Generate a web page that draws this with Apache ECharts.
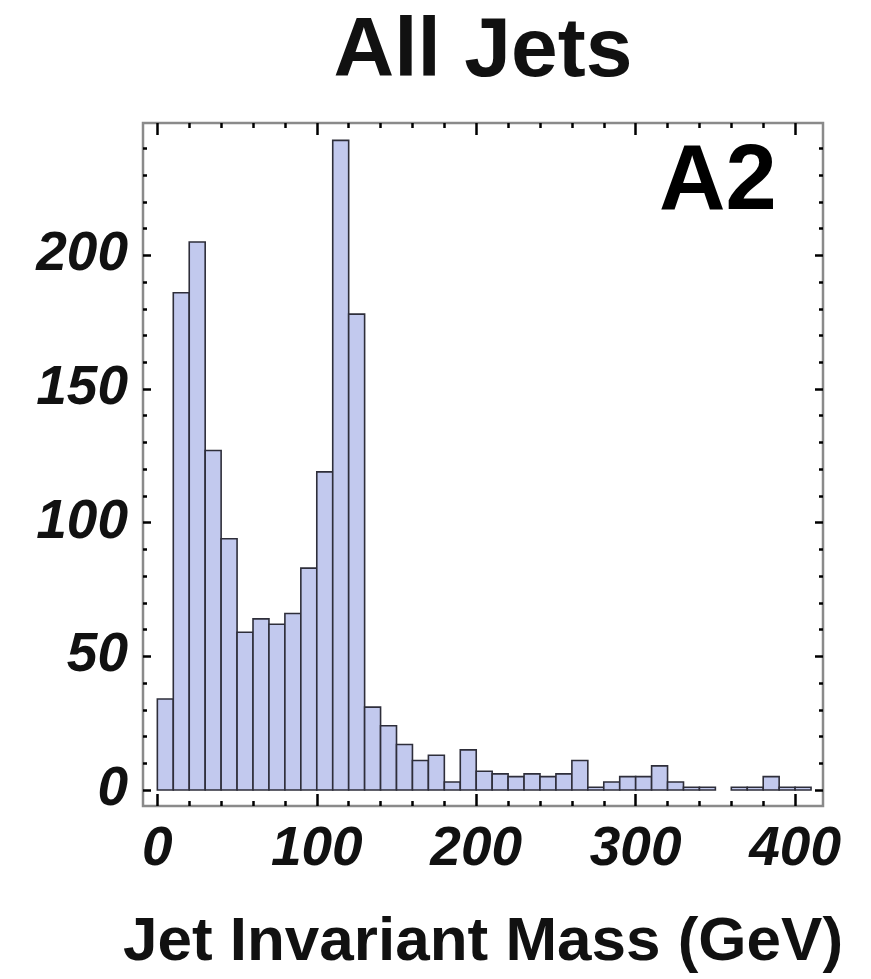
<!DOCTYPE html>
<html>
<head>
<meta charset="utf-8">
<script src="https://cdn.jsdelivr.net/npm/echarts@6/dist/echarts.min.js"></script>
<style>
  html, body { margin: 0; padding: 0; background: #fff; }
  #chart { width: 871px; height: 979px; }
</style>
</head>
<body>
<div id="chart"></div>
<script>
// Histogram of jet invariant mass, 10 GeV bins
const binLow = [0, 10, 20, 30, 40, 50, 60, 70, 80, 90,
                100, 110, 120, 130, 140, 150, 160, 170, 180, 190,
                200, 210, 220, 230, 240, 250, 260, 270, 280, 290,
                300, 310, 320, 330, 340, 350, 360, 370, 380, 390, 400];
const binHigh = [10, 20, 30, 40, 50, 60, 70, 80, 90, 100,
                 110, 120, 130, 140, 150, 160, 170, 180, 190, 200,
                 210, 220, 230, 240, 250, 260, 270, 280, 290, 300,
                 310, 320, 330, 340, 350, 360, 370, 380, 390, 400, 410];
const counts = [34, 186, 205, 127, 94, 59, 64, 62, 66, 83,
                119, 243, 178, 31, 24, 17, 11, 13, 3, 15,
                7, 6, 5, 6, 5, 6, 11, 1, 3, 5,
                5, 9, 3, 1, 1, 0, 1, 1, 5, 1, 1];

const xMajor = [0, 100, 200, 300, 400];
const xMinor = [20, 40, 60, 80, 120, 140, 160, 180, 220, 240, 260, 280, 320, 340, 360, 380];
const yMajor = [0, 50, 100, 150, 200];
const yMinor = [10, 20, 30, 40, 60, 70, 80, 90, 110, 120, 130, 140, 160, 170, 180, 190, 210, 220, 230, 240];

const titleText = 'All Jets';
const panelText = 'A2';
const xName = 'Jet Invariant Mass (GeV)';

const X_MIN = -9, X_MAX = 417.5;
const Y_MIN = -6, Y_MAX = 249.5;

const tickFont = {
  fontFamily: 'Liberation Sans',
  fontWeight: 'bold',
  fontStyle: 'italic',
  fontSize: 55,
  color: '#111'
};

function xAxisDef(position, ticks, len, withLabels) {
  return {
    type: 'value', position: position, min: X_MIN, max: X_MAX,
    axisLine: { show: false, onZero: false },
    splitLine: { show: false },
    axisTick: { show: true, inside: true, length: len, customValues: ticks,
                lineStyle: { color: '#000', width: 2.5 } },
    axisLabel: withLabels
      ? Object.assign({ show: true, customValues: ticks, margin: 16 }, tickFont)
      : { show: false }
  };
}
function yAxisDef(position, ticks, len, withLabels) {
  return {
    type: 'value', position: position, min: Y_MIN, max: Y_MAX,
    axisLine: { show: false, onZero: false },
    splitLine: { show: false },
    axisTick: { show: true, inside: true, length: len, customValues: ticks,
                lineStyle: { color: '#000', width: 2.5 } },
    axisLabel: withLabels
      ? Object.assign({ show: true, customValues: ticks, margin: 15 }, tickFont)
      : { show: false }
  };
}

const xAxes = [
  xAxisDef('bottom', xMajor, 12, true),
  xAxisDef('bottom', xMinor, 5, false),
  xAxisDef('top', xMajor, 12, false),
  xAxisDef('top', xMinor, 5, false)
];
xAxes[0].name = xName;
xAxes[0].nameLocation = 'middle';
xAxes[0].nameGap = 106;
xAxes[0].nameTextStyle = { fontFamily: 'Liberation Sans', fontWeight: 'bold', fontSize: 62, color: '#111' };

const yAxes = [
  yAxisDef('left', yMajor, 8, true),
  yAxisDef('left', yMinor, 4, false),
  yAxisDef('right', yMajor, 8, false),
  yAxisDef('right', yMinor, 4, false)
];

const histData = binLow.map((lo, i) => [lo, binHigh[i], counts[i]]);

const chart = echarts.init(document.getElementById('chart'), null, { renderer: 'canvas' });
chart.setOption({
  animation: false,
  backgroundColor: '#fff',
  title: [
    {
      text: titleText, left: 478, top: 6, textAlign: 'center',
      textStyle: { fontFamily: 'Liberation Sans', fontWeight: 'bold', fontSize: 84, color: '#111' }
    },
    {
      text: panelText, left: 654, top: 133,
      textStyle: { fontFamily: 'Liberation Sans', fontWeight: 'bold', fontSize: 92, color: '#000' }
    }
  ],
  grid: {
    left: 143, right: 48, top: 123, bottom: 173,
    show: true, borderColor: '#8a8a8a', borderWidth: 2.5, backgroundColor: 'transparent'
  },
  xAxis: xAxes,
  yAxis: yAxes,
  series: [{
    type: 'custom',
    xAxisIndex: 0, yAxisIndex: 0,
    clip: true,
    data: histData,
    renderItem: function (params, api) {
      const lo = api.value(0), hi = api.value(1), c = api.value(2);
      if (c <= 0) return null;
      const p0 = api.coord([lo, c]);
      const p1 = api.coord([hi, 0]);
      return {
        type: 'rect',
        shape: { x: p0[0], y: p0[1], width: p1[0] - p0[0], height: p1[1] - p0[1] },
        style: { fill: '#c2c9ee', stroke: '#2e2e3a', lineWidth: 1.6 }
      };
    }
  }]
});
</script>
</body>
</html>
